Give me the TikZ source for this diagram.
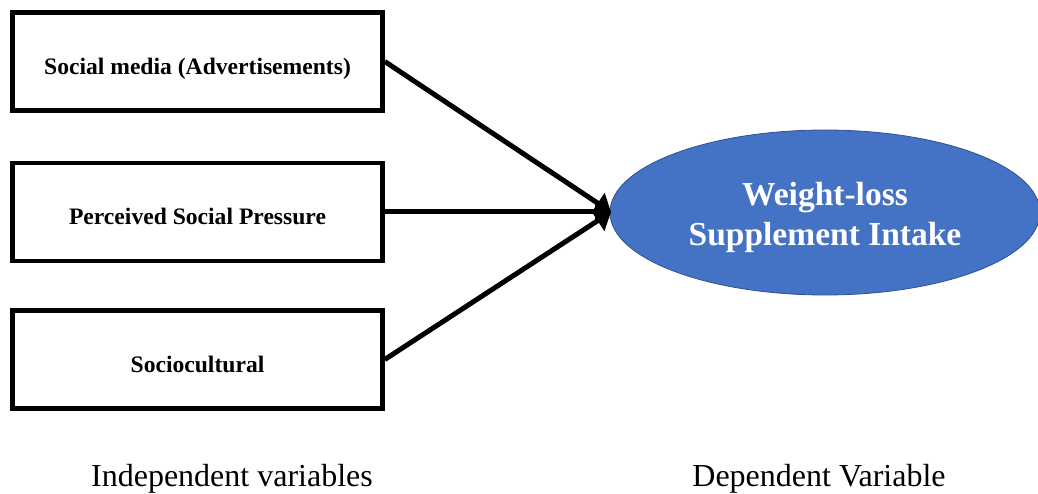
\documentclass[tikz,border=0pt]{standalone}
\usepackage{fontspec}
\setmainfont{Liberation Serif}
\usetikzlibrary{arrows.meta,shapes.geometric}
\definecolor{ellfill}{HTML}{4472C4}
\definecolor{elldraw}{HTML}{2F528F}
\newcommand{\lowerby}[2]{\raisebox{-#1}[\height][\depth]{#2}}
\begin{document}
\begin{tikzpicture}[x=1pt,y=-1pt,
  varbox/.style={draw=black,line width=4.5pt,rectangle,minimum width=370pt,minimum height=98pt,inner sep=0pt,font=\fontsize{23.6}{26}\selectfont\bfseries},
  depell/.style={ellipse,draw=elldraw,line width=0.8pt,fill=ellfill,minimum width=430pt,minimum height=165pt,inner sep=0pt,text=white,font=\fontsize{33.5}{40}\selectfont\bfseries},
  conn/.style={line width=5pt,-{Triangle[length=16pt,width=24pt]}},
  caption/.style={font=\fontsize{32}{36}\selectfont}]
\useasboundingbox (0,0) rectangle (1038,494);
\node[varbox] (b1) at (197.5,61.5) {\lowerby{7pt}{Social media (Advertisements)}};
\node[varbox] (b2) at (197.5,212) {\lowerby{4pt}{Perceived Social Pressure}};
\node[varbox] (b3) at (197.5,359.5) {\lowerby{5pt}{Sociocultural}};
\node[depell] (dv) at (825,212.5) {\lowerby{5pt}{\begin{tabular}{@{}c@{}}Weight-loss\\Supplement Intake\end{tabular}}};
\coordinate (tip) at (611,212);
\draw[conn] (b1.east) -- (tip);
\draw[conn] (b2.east) -- (tip);
\draw[conn] (b3.east) -- (tip);
\node[caption] (c1) at (232,479) {Independent variables};
\node[caption] (c2) at (819,479) {Dependent Variable};
\end{tikzpicture}
\end{document}
